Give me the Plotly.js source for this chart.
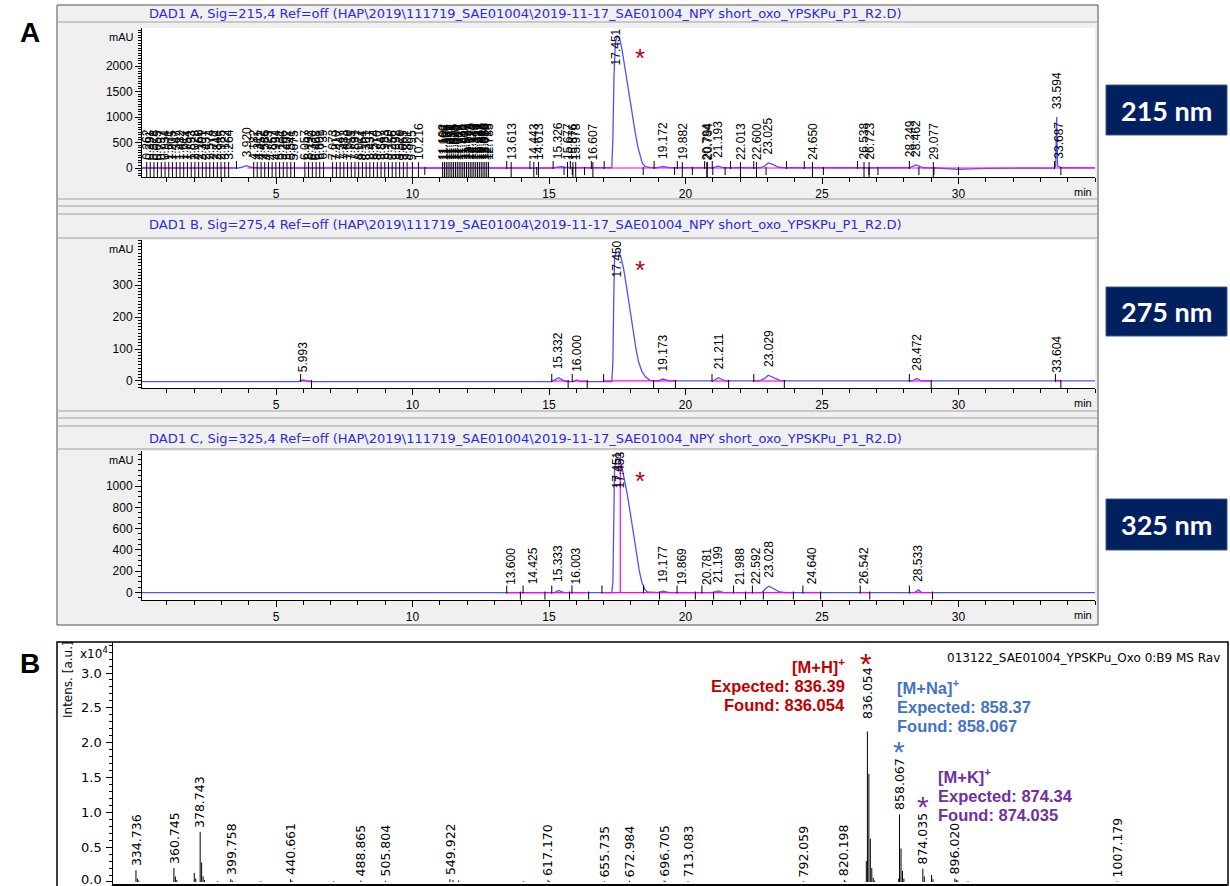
<!DOCTYPE html>
<html>
<head>
<meta charset="utf-8">
<script src="https://cdn.plot.ly/plotly-3.0.1.min.js"></script>
<style>
  html, body { margin: 0; padding: 0; background: #ffffff; }
  #chart { width: 1230px; height: 886px; }
</style>
</head>
<body>
<div id="chart"></div>
<script>
// ---------------- HPLC (DAD) chromatograms ----------------
// 215 nm signal (min, mAU)
const t215 = [0.09, 3.40, 3.50, 3.60, 3.75, 3.92, 4.05, 4.20, 4.40, 15.10, 15.30, 15.45, 15.60, 15.80, 17.20, 17.30, 17.34, 17.38, 17.43, 17.50, 17.58, 17.67, 17.80, 17.92, 18.04, 18.16, 18.26, 18.34, 18.42, 18.52, 18.70, 18.95, 19.17, 19.45, 21.00, 21.19, 21.40, 22.75, 22.90, 23.03, 23.20, 23.40, 23.65, 28.20, 28.45, 28.70, 29.20, 30.00, 31.00, 33.50, 33.56, 33.594, 33.63, 33.69, 33.80, 35.00];
const v215 = [0, 0, -8, 0, 15, 45, 20, 5, 0, 0, 15, 25, 15, 5, 5, 5, 600, 1800, 2450, 2590, 2550, 2330, 1900, 1475, 1050, 685, 400, 225, 90, 30, 8, 5, 30, 5, 5, 35, 5, 5, 40, 100, 70, 15, 5, 5, 60, 5, 0, -25, -5, 0, 40, 1000, 40, 20, 5, 3];

// 275 nm signal
const t275 = [0.09, 5.80, 5.99, 6.20, 15.10, 15.35, 15.60, 15.90, 16.00, 16.15, 17.30, 17.34, 17.37, 17.40, 17.45, 17.55, 17.64, 17.73, 17.82, 17.92, 18.01, 18.10, 18.19, 18.28, 18.40, 18.53, 18.70, 19.00, 19.17, 19.40, 21.00, 21.21, 21.45, 22.70, 22.90, 23.03, 23.20, 23.45, 23.70, 28.30, 28.47, 28.65, 33.45, 33.60, 33.75, 35.00];
const v275 = [-2, -2, 3, -2, -2, 10, -2, -2, 3, -2, -2, 60, 250, 385, 400, 405, 385, 352, 305, 248, 196, 144, 98, 60, 30, 13, 2, 0, 6, 0, 0, 10, 0, 0, 8, 18, 12, 2, 0, 0, 8, 0, 0, 2, 0, 0];

// 325 nm signal
const t325 = [0.09, 13.50, 15.20, 15.35, 15.55, 16.00, 17.30, 17.34, 17.37, 17.40, 17.45, 17.55, 17.65, 17.75, 17.85, 17.95, 18.04, 18.13, 18.22, 18.31, 18.40, 18.50, 18.60, 19.00, 19.18, 19.40, 21.00, 21.20, 21.40, 22.80, 22.95, 23.05, 23.20, 23.45, 23.70, 28.40, 28.53, 28.65, 35.00];
const v325 = [0, 0, 0, 20, 0, 0, 0, 100, 600, 1150, 1260, 1270, 1200, 1080, 946, 790, 632, 470, 321, 200, 97, 35, 5, 0, 12, 0, 0, 15, 0, 0, 40, 60, 40, 5, 0, 0, 25, 0, 0];

// retention-time labels (min) and the apex height (mAU) they sit on
const lbl215 = [0.262, 0.391, 0.528, 0.655, 0.797, 0.934, 1.071, 1.205, 1.347, 1.482, 1.617, 1.754, 1.893, 2.028, 2.166, 2.301, 2.437, 2.574, 2.712, 2.849, 2.985, 3.122, 3.264,
  3.920,
  4.182, 4.311, 4.452, 4.586, 4.723, 4.857, 4.994, 5.131, 5.266, 5.402, 5.541, 5.675, 6.057, 6.192, 6.330, 6.468, 6.601, 6.739, 7.073, 7.210, 7.347, 7.483, 7.619, 7.755, 7.891, 8.027, 8.164, 8.301, 8.437, 8.574, 8.710, 8.847, 8.983, 9.120, 9.256, 9.392, 9.529, 9.665, 9.801,
  9.995, 10.216,
  11.102, 11.169, 11.236, 11.302, 11.371, 11.438, 11.505, 11.573, 11.640, 11.707, 11.775, 11.842, 11.909, 11.977, 12.044, 12.112, 12.179, 12.246, 12.314, 12.381, 12.448, 12.516, 12.583, 12.650, 12.718, 12.785,
  13.613, 14.443, 14.613, 15.326, 15.677, 15.876, 15.978, 16.607, 19.172, 19.882, 20.784, 20.794, 21.193, 22.013, 22.600, 23.025, 24.650, 26.538, 26.723, 28.249, 28.462, 29.077, 33.594, 33.687];
const apex215 = [0,0,0,0,0,0,0,0,0,0,0,0,0,0,0,0,0,0,0,0,0,0,0,
  45,
  0,0,0,0,0,0,0,0,0,0,0,0,0,0,0,0,0,0,0,0,0,0,0,0,0,0,0,0,0,0,0,0,0,0,0,0,0,0,0,
  0, 0,
  0,0,0,0,0,0,0,0,0,0,0,0,0,0,0,0,0,0,0,0,0,0,0,0,0,0,
  0, 0, 0, 25, 0, 0, 0, 0, 30, 0, 0, 0, 35, 0, 0, 100, 0, 0, 0, 60, 60, 0, 1000, 20];
const main215 = ['17.451'];

const lbl275 = [5.993, 15.332, 16.000, 19.173, 21.211, 23.029, 28.472, 33.604];
const apex275 = [3, 10, 3, 6, 10, 18, 8, 2];
const main275 = ['17.450'];

const lbl325 = [13.600, 14.425, 15.333, 16.003, 19.177, 19.869, 20.781, 21.199, 21.988, 22.592, 23.028, 24.640, 26.542, 28.533];
const apex325 = [0, 0, 20, 0, 12, 0, 0, 15, 0, 0, 60, 0, 0, 25];
const main325 = ['17.451', '17.453'];

// integration marks: peak start (drawn up) and peak end (drawn down)
const start215 = [3.55, 13.45, 14.30, 15.15, 15.78, 16.55, 17.02, 18.85, 19.70, 20.70, 20.98, 21.65, 22.50, 23.70, 24.35, 26.30, 28.20, 33.52];
const end215 = [10.45, 14.55, 15.55, 15.85, 16.30, 18.45, 19.60, 20.25, 21.00, 21.45, 22.95, 25.05, 26.72, 27.05, 28.55, 29.10, 30.00, 33.75];
const start275 = [5.90, 15.10, 15.85, 17.00, 20.97, 22.50, 28.20, 33.55];
const end275 = [6.30, 15.70, 16.40, 18.83, 19.63, 21.58, 23.62, 29.00, 33.75];
const start325 = [13.45, 14.05, 15.10, 15.84, 16.94, 18.46, 19.69, 20.60, 21.76, 22.45, 24.30, 26.40, 28.20];
const end325 = [13.95, 14.85, 15.75, 16.45, 19.05, 20.36, 21.03, 22.20, 22.85, 23.95, 24.95, 26.75, 29.05];

// integration baselines (start, end)
const base215 = [[0.09, 3.45], [3.95, 35.0]];
const base275 = [[5.9, 6.3], [15.1, 15.7], [15.85, 16.4], [17.0, 18.83], [18.83, 19.63], [20.97, 21.58], [22.5, 23.62], [28.2, 29.0], [33.55, 33.75]];
const base325 = [[13.45, 16.45], [16.94, 18.46], [18.46, 23.95], [24.3, 24.95], [26.4, 26.75], [28.2, 29.05]];
const drop325 = [17.61, 1270];

const timeTicks = [5, 10, 15, 20, 25, 30];
const ticks215 = [0, 500, 1000, 1500, 2000];
const ticks275 = [0, 100, 200, 300];
const ticks325 = [0, 200, 400, 600, 800, 1000];

// ---------------- MALDI mass spectrum ----------------
const msLabelMz = [334.736, 360.745, 378.743, 399.758, 440.661, 488.865, 505.804, 549.922, 617.170, 655.735, 672.984, 696.705, 713.083, 792.059, 820.198, 836.054, 858.067, 874.035, 896.020, 1007.179];
const msLabelInt = [0.17, 0.20, 0.72, 0.04, 0.04, 0.02, 0.015, 0.04, 0.03, 0.01, 0.015, 0.02, 0.01, 0.01, 0.03, 2.16, 0.97, 0.19, 0.05, 0.01];
const msOtherMz = [335.74, 336.74, 361.75, 362.75, 374.70, 375.70, 379.75, 380.75, 381.75, 390.5, 400.76, 420.3, 441.66, 470.2, 552.0, 555.9, 600.4, 618.2, 697.7, 821.2, 835.3, 837.06, 838.06, 839.06, 840.06, 841.0, 857.5, 859.07, 860.07, 861.07, 875.04, 880.0, 881.0, 897.0, 898.0, 905.0];
const msOtherInt = [0.05, 0.02, 0.08, 0.03, 0.13, 0.05, 0.28, 0.08, 0.03, 0.01, 0.02, 0.01, 0.02, 0.01, 0.03, 0.02, 0.01, 0.01, 0.01, 0.01, 0.3, 1.55, 0.62, 0.2, 0.06, 0.02, 0.05, 0.48, 0.16, 0.05, 0.08, 0.1, 0.04, 0.03, 0.02, 0.01];
const msTicks = [0, 0.5, 1.0, 1.5, 2.0, 2.5, 3.0];

// ---------------- page geometry (pixels) ----------------
const W = 1230, H = 886;
const fx = p => p / W;
const fy = p => 1 - p / H;

const chromFont = 'Liberation Sans, Arial, sans-serif';
const titleFont = 'DejaVu Sans, Verdana, sans-serif';
const msFont = 'DejaVu Sans, Verdana, sans-serif';
const BLUE = '#5050ff', MAGENTA = '#ff00ff';

const panels = [
  { id: '',  t: t215, v: v215, lbl: lbl215, apex: apex215, main: main215, st: start215, en: end215, base: base215,
    top: 28, bot: 177, range: [-176, 2745], ticks: ticks215, minor: 50, sig: 'DAD1 A, Sig=215,4', titleY: 13, nm: '215 nm', box: [85, 135] },
  { id: '2', t: t275, v: v275, lbl: lbl275, apex: apex275, main: main275, st: start275, en: end275, base: base275,
    top: 240, bot: 388, range: [-22, 441], ticks: ticks275, minor: 10, sig: 'DAD1 B, Sig=275,4', titleY: 224, nm: '275 nm', box: [287, 336] },
  { id: '3', t: t325, v: v325, lbl: lbl325, apex: apex325, main: main325, st: start325, en: end325, base: base325,
    top: 451, bot: 600, range: [-70, 1329], ticks: ticks325, minor: 50, sig: 'DAD1 C, Sig=325,4', titleY: 438, nm: '325 nm', box: [499, 550] }
];
const PL = 142, PR = 1095;
const runPath = ' Ref=off (HAP\\2019\\111719_SAE01004\\2019-11-17_SAE01004_NPY short_oxo_YPSKPu_P1_R2.D)';

const traces = [];
const annotations = [];
const shapes = [];

// window chrome behind the chromatograms
shapes.push({ type: 'rect', xref: 'paper', yref: 'paper', x0: fx(57), x1: fx(1098), y0: fy(625), y1: fy(5),
  fillcolor: '#f0f0f0', line: { color: '#505050', width: 1 }, layer: 'below' });
[22, 199, 206, 214, 238, 411, 418, 426, 449].forEach(y => {
  shapes.push({ type: 'line', xref: 'paper', yref: 'paper', x0: fx(58), x1: fx(1097), y0: fy(y), y1: fy(y),
    line: { color: '#a0a0a0', width: 1 }, layer: 'below' });
});

const layout = {
  width: W, height: H, margin: { l: 0, r: 0, t: 0, b: 0 },
  paper_bgcolor: '#ffffff', plot_bgcolor: 'rgba(0,0,0,0)', showlegend: false,
  font: { family: chromFont, color: '#000' }
};

panels.forEach(p => {
  const xa = 'x' + p.id, ya = 'y' + p.id;
  const k = (p.range[1] - p.range[0]) / (p.bot - p.top); // data units per pixel

  // white plot area
  shapes.push({ type: 'rect', xref: 'paper', yref: 'paper', x0: fx(PL), x1: fx(PR), y0: fy(p.bot), y1: fy(p.top),
    fillcolor: '#ffffff', line: { width: 0 }, layer: 'below' });

  layout['xaxis' + p.id] = {
    domain: [fx(PL), fx(PR)], anchor: ya, range: [0.09, 35.0],
    tickvals: timeTicks, ticks: 'outside', ticklen: 6, tickcolor: '#000', tickwidth: 1,
    minor: { dtick: 1, tick0: 0, ticks: 'outside', ticklen: 4, tickcolor: '#000' },
    showline: true, linecolor: '#000', linewidth: 1, showgrid: false, zeroline: false,
    tickfont: { family: chromFont, size: 12, color: '#000' }, fixedrange: true
  };
  layout['yaxis' + p.id] = {
    domain: [fy(p.bot), fy(p.top)], anchor: xa, range: p.range,
    tickvals: p.ticks, ticks: 'outside', ticklen: 6, tickcolor: '#000', tickwidth: 1,
    minor: { dtick: p.minor, tick0: 0, ticks: 'outside', ticklen: 3, tickcolor: '#000' },
    showline: true, linecolor: '#000', linewidth: 1, showgrid: false, zeroline: false,
    tickfont: { family: chromFont, size: 12, color: '#000' }, fixedrange: true
  };

  // detector signal
  traces.push({ type: 'scatter', mode: 'lines', x: p.t, y: p.v, xaxis: xa, yaxis: ya,
    line: { color: BLUE, width: 1.3 }, hoverinfo: 'skip' });

  // integration baselines
  const bx = [], by = [];
  p.base.forEach(s => { bx.push(s[0], s[1], null); by.push(0, 0, null); });
  traces.push({ type: 'scatter', mode: 'lines', x: bx, y: by, xaxis: xa, yaxis: ya,
    line: { color: MAGENTA, width: 1.2 }, hoverinfo: 'skip' });

  // integration tick marks
  const tx = [], ty = [];
  p.st.forEach(t => { tx.push(t, t, null); ty.push(-1 * k, 7 * k, null); });
  p.en.forEach(t => { tx.push(t, t, null); ty.push(1 * k, -7 * k, null); });
  p.lbl.forEach((t, i) => { if (p.apex[i] === 0 && p.id === '') { tx.push(t, t, null); ty.push(6 * k, -9 * k, null); } });
  traces.push({ type: 'scatter', mode: 'lines', x: tx, y: ty, xaxis: xa, yaxis: ya,
    line: { color: '#000', width: 1, simplify: false }, hoverinfo: 'skip' });

  // retention-time labels
  p.lbl.forEach((t, i) => {
    annotations.push({ x: t, y: p.apex[i], xref: xa, yref: ya, text: t.toFixed(3), textangle: -90,
      xanchor: 'center', yanchor: 'bottom', yshift: 7, showarrow: false, borderpad: 0,
      font: { family: chromFont, size: 12, color: '#000' } });
  });
  p.main.forEach((s, i) => {
    annotations.push({ x: parseFloat(s), y: p.range[1], xref: xa, yref: ya, text: s, textangle: -90,
      xanchor: 'center', yanchor: 'top', xshift: 1 + i * 3, yshift: 1, showarrow: false, borderpad: 0,
      font: { family: chromFont, size: 12, color: '#000' } });
  });

  // red asterisk marking the product peak
  annotations.push({ x: fx(640), y: fy(p.top + 30), xref: 'paper', yref: 'paper', text: '*', showarrow: false,
    xanchor: 'center', yanchor: 'middle', font: { family: 'Liberation Sans, Arial', size: 26, color: '#c00000' } });

  // window title
  annotations.push({ x: fx(147), y: fy(p.titleY), xref: 'paper', yref: 'paper', text: p.sig + runPath,
    showarrow: false, xanchor: 'left', yanchor: 'middle',
    font: { family: titleFont, size: 13, color: '#2a2ae6' } });
  // y unit and x unit
  annotations.push({ x: fx(136), y: fy(p.top + 9), xref: 'paper', yref: 'paper', text: 'mAU', showarrow: false,
    xanchor: 'right', yanchor: 'middle', font: { family: chromFont, size: 11, color: '#000' } });
  annotations.push({ x: fx(1094), y: fy(p.bot + 15), xref: 'paper', yref: 'paper', text: 'min', showarrow: false,
    xanchor: 'right', yanchor: 'middle', font: { family: chromFont, size: 11, color: '#000' } });

  // wavelength tag
  shapes.push({ type: 'rect', xref: 'paper', yref: 'paper', x0: fx(1106), x1: fx(1227), y0: fy(p.box[1]), y1: fy(p.box[0]),
    fillcolor: '#002060', line: { color: '#41587f', width: 1 } });
  annotations.push({ x: fx(1166.5), y: fy((p.box[0] + p.box[1]) / 2), xref: 'paper', yref: 'paper', text: '<b>' + p.nm + '</b>',
    showarrow: false, xanchor: 'center', yanchor: 'middle', font: { family: 'Lato, Open Sans, sans-serif', size: 27, color: '#ffffff' } });
});

// drop line splitting the main 325 nm peak
traces.push({ type: 'scatter', mode: 'lines', x: [drop325[0], drop325[0]], y: [0, drop325[1]], xaxis: 'x3', yaxis: 'y3',
  line: { color: MAGENTA, width: 1.2 }, hoverinfo: 'skip' });

// ---------------- mass spectrum panel ----------------
const MS_T = 642, MS_B = 884;
layout.xaxis4 = { domain: [fx(113), fx(1227)], anchor: 'y4', range: [319, 1082.5], showticklabels: false, ticks: '',
  showline: true, linecolor: '#000', linewidth: 1.5, showgrid: false, zeroline: false, fixedrange: true };
layout.yaxis4 = { domain: [fy(MS_B), fy(MS_T)], anchor: 'x4', range: [-0.029, 3.445],
  tickvals: msTicks, showticklabels: false, ticks: 'outside', ticklen: 6, tickcolor: '#000',
  minor: { dtick: 0.1, tick0: 0, ticks: 'outside', ticklen: 3, tickcolor: '#000' },
  showline: true, linecolor: '#000', linewidth: 1, showgrid: false, zeroline: false, fixedrange: true };

// intensity tick labels, placed beside the y4 ticks
msTicks.forEach(v => {
  annotations.push({ x: fx(104), y: v, xref: 'paper', yref: 'y4', text: v.toFixed(1), showarrow: false,
    xanchor: 'right', yanchor: 'middle', yshift: v === 0 ? 2 : 0, font: { family: msFont, size: 13, color: '#000' } });
});

shapes.push({ type: 'rect', xref: 'paper', yref: 'paper', x0: fx(57), x1: fx(1228), y0: fy(892), y1: fy(MS_T),
  fillcolor: 'rgba(0,0,0,0)', line: { color: '#000', width: 1.5 } });

// stick spectrum: one vertical line per peak, from the baseline to its intensity
const sx = [], sy = [];
msLabelMz.concat(msOtherMz).forEach((m, i) => {
  const h = i < msLabelMz.length ? msLabelInt[i] : msOtherInt[i - msLabelMz.length];
  sx.push(m, m, null); sy.push(0, h, null);
});
traces.push({ type: 'scatter', mode: 'lines', x: sx, y: sy, xaxis: 'x4', yaxis: 'y4', connectgaps: false,
  line: { color: '#000', width: 1, simplify: false }, hoverinfo: 'skip' });

const msLabelLift = { '836.054': 9 };
msLabelMz.forEach((m, i) => {
  const s = m.toFixed(3);
  annotations.push({ x: m, y: msLabelInt[i], xref: 'x4', yref: 'y4', text: s, textangle: -90,
    xanchor: 'center', yanchor: 'bottom', yshift: 3 + (msLabelLift[s] || 0), showarrow: false, borderpad: 0,
    font: { family: msFont, size: 12.5, color: '#000' } });
});

// axis captions and run name
annotations.push({ x: fx(68), y: fy(680), xref: 'paper', yref: 'paper', text: 'Intens. [a.u.]', textangle: -90,
  showarrow: false, xanchor: 'center', yanchor: 'middle', font: { family: msFont, size: 12, color: '#000' } });
annotations.push({ x: fx(110), y: fy(653), xref: 'paper', yref: 'paper', text: 'x10<sup>4</sup>',
  showarrow: false, xanchor: 'right', yanchor: 'middle', font: { family: msFont, size: 12, color: '#000' } });
annotations.push({ x: fx(1222), y: fy(658), xref: 'paper', yref: 'paper', text: '013122_SAE01004_YPSKPu_Oxo 0:B9 MS Rav',
  showarrow: false, xanchor: 'right', yanchor: 'middle', font: { family: msFont, size: 12, color: '#000' } });

// adduct call-outs
const adducts = [
  { lines: ['[M+H]<sup>+</sup>', 'Expected: 836.39', 'Found: 836.054'], x: 847, anchor: 'right', y: 666, color: '#c00000', star: [866, 657] },
  { lines: ['[M+Na]<sup>+</sup>', 'Expected: 858.37', 'Found: 858.067'], x: 895, anchor: 'left', y: 687, color: '#4472c4', star: [899, 745] },
  { lines: ['[M+K]<sup>+</sup>', 'Expected: 874.34', 'Found: 874.035'], x: 936, anchor: 'left', y: 776, color: '#7030a0', star: [923, 800] }
];
adducts.forEach(a => {
  a.lines.forEach((txt, j) => {
    annotations.push({ x: fx(a.x), y: fy(a.y + j * 19.5), xref: 'paper', yref: 'paper', text: '<b>' + txt + '</b>',
      showarrow: false, xanchor: a.anchor, yanchor: 'middle',
      font: { family: 'Liberation Sans, Arial, sans-serif', size: 16.5, color: a.color } });
  });
  annotations.push({ x: fx(a.star[0]), y: fy(a.star[1] + 6), xref: 'paper', yref: 'paper', text: '*', showarrow: false,
    xanchor: 'center', yanchor: 'middle', font: { family: 'Liberation Sans, Arial', size: 30, color: a.color } });
});

// panel letters
annotations.push({ x: fx(30), y: fy(32), xref: 'paper', yref: 'paper', text: '<b>A</b>', showarrow: false,
  xanchor: 'center', yanchor: 'middle', font: { family: 'Liberation Sans, Arial', size: 28, color: '#000' } });
annotations.push({ x: fx(30), y: fy(663), xref: 'paper', yref: 'paper', text: '<b>B</b>', showarrow: false,
  xanchor: 'center', yanchor: 'middle', font: { family: 'Liberation Sans, Arial', size: 28, color: '#000' } });

layout.shapes = shapes;
layout.annotations = annotations;

Plotly.newPlot('chart', traces, layout, { staticPlot: true, displayModeBar: false });
</script>
</body>
</html>
